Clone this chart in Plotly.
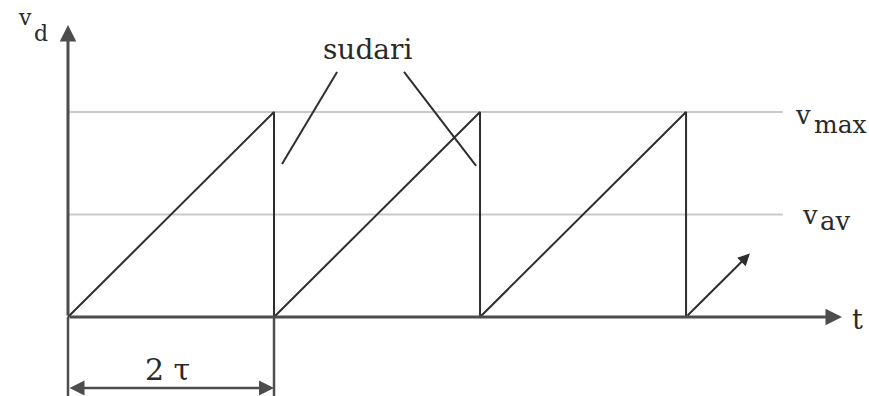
import plotly.graph_objects as go

# Sawtooth of the deflection voltage v_d: linear rise to v_max over one period 2τ,
# then an instant fall back to zero. Time is measured in periods (1 = 2τ),
# voltage as a fraction of v_max.
t_wave = [0, 1, 1, 2, 2, 3, 3]
v_wave = [0, 1, 0, 1, 0, 1, 0]
v_max = 1.0
v_av = 0.5
tail_t = [3.0, 3.31]        # start of the next ramp (drawn with an arrow)
tail_v = [0.0, 0.31]

# Extents of the drawing, in the same units
t_axis_end = 3.757
v_axis_end = 1.424
ref_line_end = 3.47
dim_level = -0.346          # height of the 2τ dimension arrow
t_range = [-0.330, 3.888]
v_range = [-0.385, 1.546]

# Leader lines from the "sudari" label to the falling edges
leader_t = [[1.306, 1.039], [1.631, 1.981]]
leader_v = [[1.195, 0.746], [1.195, 0.737]]

axis_col = "#4d4d4d"
wave_col = "#2e2e2e"
ref_col = "#c9c9c9"
font = "DejaVu Serif"

fig = go.Figure()

# v_max and v_av reference levels
for lvl in (v_max, v_av):
    fig.add_trace(go.Scatter(x=[0, ref_line_end], y=[lvl, lvl], mode="lines",
                             line=dict(color=ref_col, width=2), hoverinfo="skip"))

# dimension lines for one period, continuing below the time axis
for tt in (0, 1):
    fig.add_trace(go.Scatter(x=[tt, tt], y=[v_range[0], 0], mode="lines",
                             line=dict(color=axis_col, width=2.5), hoverinfo="skip"))

# the sawtooth
fig.add_trace(go.Scatter(x=t_wave, y=v_wave, mode="lines",
                         line=dict(color=wave_col, width=2), hoverinfo="skip"))

# leader lines
for lt, lv in zip(leader_t, leader_v):
    fig.add_trace(go.Scatter(x=lt, y=lv, mode="lines",
                             line=dict(color=wave_col, width=2), hoverinfo="skip"))

ann = []
# time axis and voltage axis with arrowheads
ann.append(dict(x=t_axis_end, y=0, ax=0, ay=0, axref="x", ayref="y", xref="x", yref="y",
                text="", showarrow=True, arrowhead=2, arrowsize=1.1, arrowwidth=3,
                arrowcolor=axis_col))
ann.append(dict(x=0, y=v_axis_end, ax=0, ay=0, axref="x", ayref="y", xref="x", yref="y",
                text="", showarrow=True, arrowhead=2, arrowsize=1.1, arrowwidth=3,
                arrowcolor=axis_col))
# start of the next ramp
ann.append(dict(x=tail_t[1], y=tail_v[1], ax=tail_t[0], ay=tail_v[0], axref="x", ayref="y",
                xref="x", yref="y", text="", showarrow=True, arrowhead=2, arrowsize=1.2,
                arrowwidth=2, arrowcolor=wave_col))
# 2τ double arrow
ann.append(dict(x=1, y=dim_level, ax=0, ay=dim_level, axref="x", ayref="y", xref="x", yref="y",
                text="", showarrow=True, arrowhead=2, startarrowhead=2, arrowside="end+start",
                arrowsize=1.2, startarrowsize=1.2, arrowwidth=2.5, arrowcolor=axis_col))

def label(txt, t, v, size):
    return dict(x=t, y=v, xref="x", yref="y", text=txt, showarrow=False,
                font=dict(family=font, size=size, color="#2a2a2a"),
                xanchor="center", yanchor="middle")

ann += [
    label("sudari", 1.454, 1.305, 28),
    label("v", 3.570, 0.983, 26),
    label("max", 3.750, 0.941, 25),
    label("v", 3.600, 0.498, 26),
    label("av", 3.723, 0.466, 26),
    label("t", 3.833, -0.012, 27),
    label("v", -0.211, 1.463, 22),
    label("d", -0.129, 1.383, 22),
    label("2 τ", 0.481, -0.258, 30),
]

fig.update_layout(
    width=869, height=396,
    margin=dict(l=0, r=0, t=0, b=0),
    paper_bgcolor="white", plot_bgcolor="white",
    showlegend=False,
    xaxis=dict(range=t_range, visible=False, fixedrange=True),
    yaxis=dict(range=v_range, visible=False, fixedrange=True),
    annotations=ann,
)

fig.write_html("out.html")
